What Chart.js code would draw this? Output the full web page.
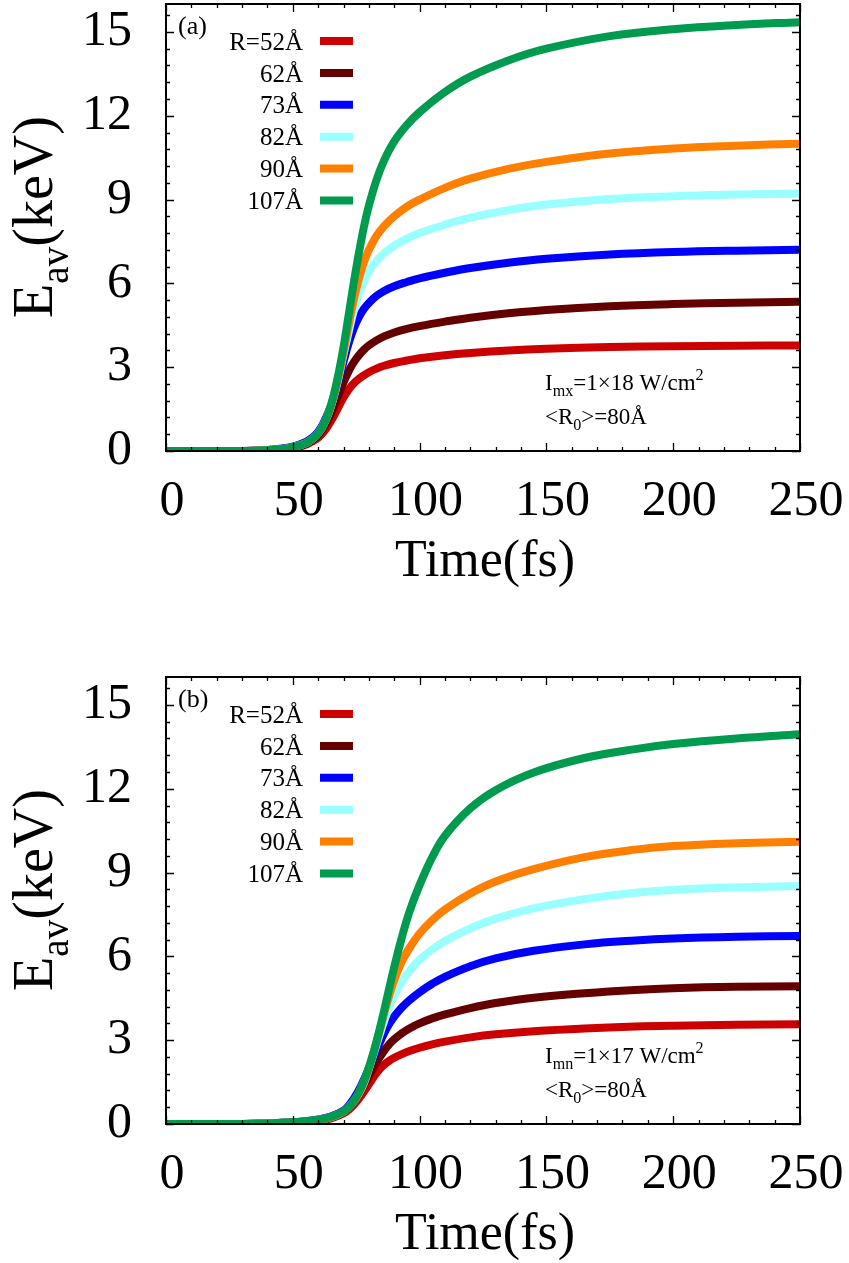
<!DOCTYPE html>
<html>
<head>
<meta charset="utf-8">
<script src="https://cdn.jsdelivr.net/npm/chart.js@4.4.0/dist/chart.umd.min.js"></script>
<style>
html, body { margin: 0; padding: 0; background: #fff; }
body { width: 849px; height: 1263px; position: relative; overflow: hidden; }
canvas { position: absolute; left: 0; }
</style>
</head>
<body>
<canvas id="chartA" width="849" height="590" style="top:0"></canvas>
<canvas id="chartB" width="849" height="590" style="top:673px"></canvas>
<script>
// data
const radii = ['R=52Å', '62Å', '73Å', '82Å', '90Å', '107Å'];
const colors = ['#cc0000', '#650000', '#0000ff', '#99ffff', '#ff8000', '#009b4f'];

const xTicks = [0, 50, 100, 150, 200, 250];
const yTicks = [0, 3, 6, 9, 12, 15];

// panel (a), I_mx
const timesA = [0, 10, 20, 30, 40, 45, 50, 55, 58, 60, 62, 64, 66, 68, 70, 72, 74, 76, 78, 80, 83, 86, 90, 95, 100, 110, 120, 135, 150, 175, 200, 225, 250];
const r52A = [0, 0, 0, 0, 0.02, 0.04, 0.09, 0.22, 0.36, 0.48, 0.66, 0.92, 1.22, 1.58, 1.92, 2.2, 2.42, 2.58, 2.71, 2.82, 2.95, 3.05, 3.15, 3.24, 3.32, 3.43, 3.51, 3.6, 3.66, 3.72, 3.75, 3.77, 3.78];
const r62A = [0, 0, 0, 0, 0.03, 0.05, 0.11, 0.24, 0.4, 0.56, 0.82, 1.15, 1.55, 2.0, 2.45, 2.85, 3.17, 3.42, 3.62, 3.78, 3.96, 4.1, 4.24, 4.37, 4.47, 4.63, 4.77, 4.93, 5.05, 5.18, 5.26, 5.31, 5.34];
const r73A = [0, 0, 0, 0, 0.04, 0.08, 0.16, 0.32, 0.5, 0.68, 0.98, 1.38, 1.85, 2.5, 3.2, 3.85, 4.38, 4.78, 5.08, 5.3, 5.55, 5.73, 5.9, 6.05, 6.18, 6.38, 6.55, 6.74, 6.88, 7.03, 7.12, 7.17, 7.2];
const r82A = [0, 0, 0, 0, 0.03, 0.06, 0.13, 0.27, 0.45, 0.63, 0.92, 1.32, 1.88, 2.6, 3.45, 4.25, 5.0, 5.6, 6.05, 6.42, 6.8, 7.08, 7.35, 7.6, 7.8, 8.1, 8.35, 8.62, 8.82, 9.02, 9.12, 9.18, 9.22];
const r90A = [0, 0, 0, 0, 0.03, 0.06, 0.13, 0.27, 0.45, 0.63, 0.92, 1.33, 1.9, 2.65, 3.55, 4.5, 5.4, 6.15, 6.75, 7.2, 7.7, 8.05, 8.4, 8.75, 9.0, 9.42, 9.75, 10.1, 10.35, 10.65, 10.83, 10.93, 11.0];
const r107A = [0, 0, 0, 0, 0.03, 0.06, 0.13, 0.27, 0.45, 0.63, 0.92, 1.35, 1.95, 2.75, 3.72, 4.85, 6.0, 7.05, 8.0, 8.78, 9.7, 10.4, 11.08, 11.67, 12.13, 12.85, 13.4, 13.98, 14.4, 14.85, 15.1, 15.25, 15.35];

// panel (b), I_mn
const timesB = [0, 10, 20, 30, 40, 50, 55, 60, 65, 70, 72, 74, 76, 78, 80, 82, 84, 86, 88, 90, 93, 96, 100, 105, 110, 120, 130, 145, 165, 185, 200, 225, 250];
const r52B = [0, 0, 0, 0, 0.01, 0.04, 0.07, 0.11, 0.2, 0.38, 0.5, 0.68, 0.9, 1.15, 1.42, 1.7, 1.94, 2.12, 2.26, 2.37, 2.5, 2.61, 2.73, 2.85, 2.95, 3.1, 3.21, 3.32, 3.42, 3.49, 3.52, 3.55, 3.57];
const r62B = [0, 0, 0, 0, 0.02, 0.05, 0.09, 0.14, 0.23, 0.42, 0.57, 0.78, 1.05, 1.38, 1.72, 2.05, 2.35, 2.62, 2.85, 3.03, 3.25, 3.42, 3.6, 3.78, 3.92, 4.15, 4.33, 4.52, 4.68, 4.8, 4.86, 4.91, 4.93];
const r73B = [0, 0, 0, 0, 0.03, 0.06, 0.1, 0.16, 0.27, 0.48, 0.65, 0.9, 1.2, 1.58, 2.0, 2.42, 2.85, 3.25, 3.58, 3.85, 4.17, 4.43, 4.72, 5.02, 5.27, 5.65, 5.93, 6.2, 6.43, 6.57, 6.64, 6.7, 6.73];
const r82B = [0, 0, 0, 0, 0.02, 0.05, 0.09, 0.14, 0.24, 0.44, 0.59, 0.8, 1.08, 1.45, 1.98, 2.55, 3.12, 3.68, 4.18, 4.6, 5.1, 5.48, 5.88, 6.25, 6.55, 7.0, 7.35, 7.72, 8.05, 8.28, 8.38, 8.47, 8.52];
const r90B = [0, 0, 0, 0, 0.02, 0.05, 0.09, 0.14, 0.24, 0.44, 0.59, 0.81, 1.1, 1.5, 2.0, 2.6, 3.25, 3.95, 4.6, 5.15, 5.82, 6.3, 6.82, 7.3, 7.68, 8.25, 8.68, 9.12, 9.55, 9.82, 9.95, 10.05, 10.1];
const r107B = [0, 0, 0, 0, 0.02, 0.06, 0.1, 0.15, 0.25, 0.45, 0.6, 0.82, 1.12, 1.52, 2.02, 2.62, 3.3, 4.05, 4.85, 5.62, 6.68, 7.6, 8.55, 9.55, 10.32, 11.3, 11.95, 12.58, 13.1, 13.42, 13.6, 13.8, 13.95];

const FONT = "'Liberation Serif', 'Times New Roman', serif";

// text with sub/superscripts: parts = [[text, kind]] kind: '', 'sub', 'sup'
function richWidth(ctx, parts, size) {
    let w = 0;
    for (const [t, k] of parts) {
        ctx.font = (k ? size * 0.7 : size) + 'px ' + FONT;
        w += ctx.measureText(t).width;
    }
    return w;
}
function drawRich(ctx, parts, x, y, size) {
    let cx = x;
    for (const [t, k] of parts) {
        const s = k ? size * 0.7 : size;
        ctx.font = s + 'px ' + FONT;
        const dy = k === 'sub' ? size * 0.28 : (k === 'sup' ? -size * 0.42 : 0);
        ctx.fillText(t, cx, y + dy);
        cx += ctx.measureText(t).width;
    }
}

// frame, inward ticks (mirrored), titles, key and labels like gnuplot
const decor = {
    id: 'decor',
    afterDatasetsDraw(chart, args, o) {
        const ctx = chart.ctx, a = chart.chartArea;
        const xs = chart.scales.x, ys = chart.scales.y;
        ctx.save();
        ctx.strokeStyle = '#000';
        ctx.lineWidth = 1.3;
        ctx.beginPath();
        for (let t = 0; t <= 250; t += 10) {
            const px = Math.round(xs.getPixelForValue(t)) + 0.5;
            const len = t % 50 === 0 ? 8 : 4;
            ctx.moveTo(px, a.bottom); ctx.lineTo(px, a.bottom - len);
            ctx.moveTo(px, a.top); ctx.lineTo(px, a.top + len);
        }
        for (let i = 0; i <= 26; i++) {
            const v = i * 0.6;
            const py = Math.round(ys.getPixelForValue(v)) + 0.5;
            const len = i % 5 === 0 ? 8 : 4;
            ctx.moveTo(a.left, py); ctx.lineTo(a.left + len, py);
            ctx.moveTo(a.right, py); ctx.lineTo(a.right - len, py);
        }
        ctx.stroke();
        ctx.lineWidth = 2;
        ctx.strokeRect(a.left, a.top, a.right - a.left, a.bottom - a.top);

        // key
        ctx.fillStyle = '#000';
        ctx.textAlign = 'left';
        ctx.textBaseline = 'alphabetic';
        chart.data.datasets.forEach((ds, i) => {
            ctx.font = '25px ' + FONT;
            const w = ctx.measureText(ds.label).width;
            ctx.fillText(ds.label, 303 - w, 50 + i * 31.7);
            ctx.strokeStyle = ds.borderColor;
            ctx.lineWidth = 8;
            ctx.beginPath();
            ctx.moveTo(320, 41 + i * 31.9);
            ctx.lineTo(353, 41 + i * 31.9);
            ctx.stroke();
        });

        // panel label and notes
        ctx.font = '26px ' + FONT;
        ctx.fillText(o.tag, 178, 34);
        drawRich(ctx, o.note1, 545, 390, 23);
        drawRich(ctx, o.note2, 545, 424, 23);

        // axis titles
        ctx.font = '52px ' + FONT;
        ctx.textAlign = 'center';
        ctx.fillText('Time(fs)', 485, 576);
        ctx.textAlign = 'left';
        const yt = [['E', ''], ['av', 'sub'], ['(keV)', '']];
        const w = richWidth(ctx, yt, 56);
        ctx.translate(52, 217);
        ctx.rotate(-Math.PI / 2);
        drawRich(ctx, yt, -w / 2, 0, 56);
        ctx.restore();
    }
};

function makeChart(id, times, series, tag, note1, note2) {
    const datasets = series.map((vals, i) => ({
        label: radii[i],
        data: times.map((t, k) => ({ x: t, y: vals[k] })),
        borderColor: colors[i],
        backgroundColor: colors[i],
        borderWidth: 8,
        pointRadius: 0,
        tension: 0.4,
        order: series.length - i
    }));
    return new Chart(document.getElementById(id), {
        type: 'line',
        data: { datasets },
        options: {
            responsive: false,
            animation: false,
            layout: { autoPadding: false, padding: { top: 4, right: 49, left: 0, bottom: 0 } },
            plugins: {
                legend: { display: false },
                tooltip: { enabled: false },
                decor: { tag, note1, note2 }
            },
            scales: {
                x: {
                    type: 'linear',
                    min: 0,
                    max: 250,
                    afterBuildTicks: s => { s.ticks = xTicks.map(v => ({ value: v })); },
                    afterFit: s => { s.height = 139; s.paddingLeft = 0; s.paddingRight = 0; },
                    grid: { display: false, drawTicks: false },
                    border: { display: false },
                    ticks: {
                        color: '#000',
                        padding: 21,
                        labelOffset: 6,
                        maxRotation: 0,
                        font: { family: FONT, size: 50 }
                    }
                },
                y: {
                    min: 0,
                    max: 16,
                    afterBuildTicks: s => { s.ticks = yTicks.map(v => ({ value: v })); },
                    afterFit: s => { s.width = 166; s.paddingTop = 0; s.paddingBottom = 0; },
                    grid: { display: false, drawTicks: false },
                    border: { display: false },
                    ticks: {
                        color: '#000',
                        padding: 34,
                        font: { family: FONT, size: 50 }
                    }
                }
            }
        },
        plugins: [decor]
    });
}

makeChart('chartA', timesA, [r52A, r62A, r73A, r82A, r90A, r107A], '(a)',
    [['I', ''], ['mx', 'sub'], ['=1×18 W/cm', ''], ['2', 'sup']],
    [['<R', ''], ['0', 'sub'], ['>=80Å', '']]);
makeChart('chartB', timesB, [r52B, r62B, r73B, r82B, r90B, r107B], '(b)',
    [['I', ''], ['mn', 'sub'], ['=1×17 W/cm', ''], ['2', 'sup']],
    [['<R', ''], ['0', 'sub'], ['>=80Å', '']]);
</script>
</body>
</html>
